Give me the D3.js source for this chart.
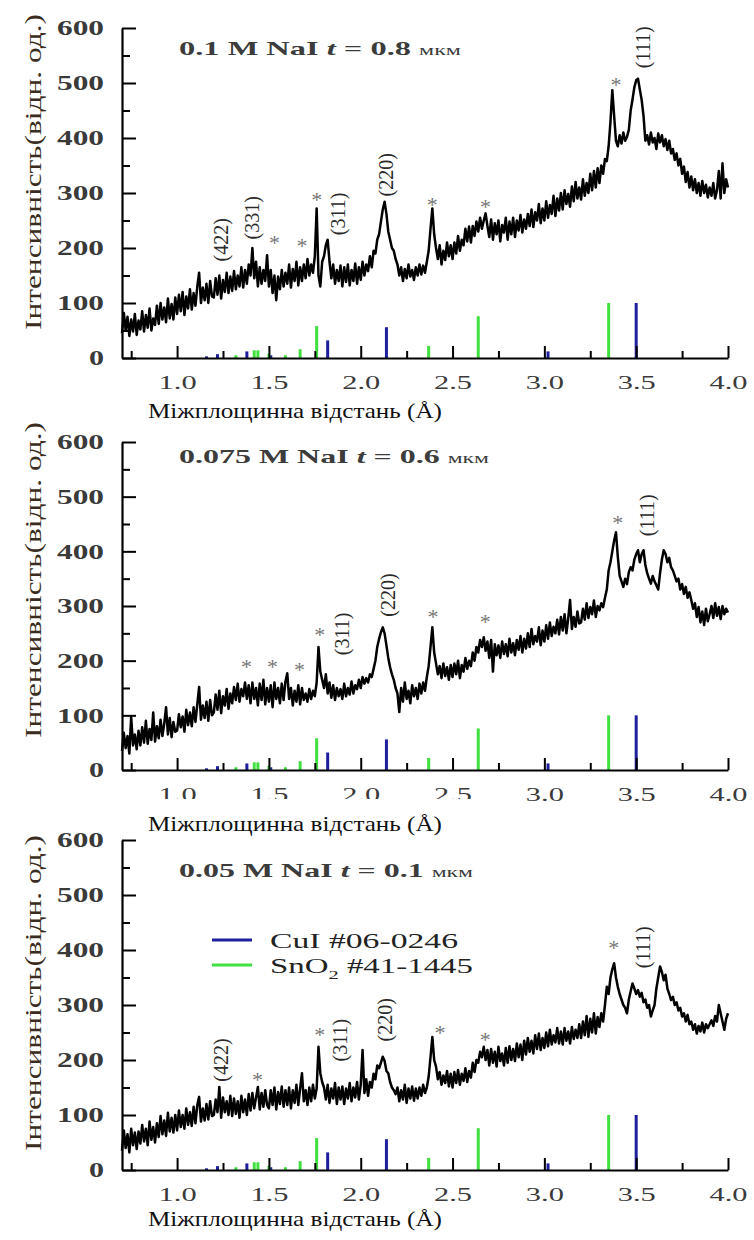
<!DOCTYPE html>
<html><head><meta charset="utf-8">
<script src="https://cdn.jsdelivr.net/npm/d3@7"></script>
<style>
body{margin:0;background:#fff}
svg{display:block}
text{font-family:"Liberation Serif","Times New Roman",serif}
</style>
</head><body>
<svg id="chart" width="754" height="1240"></svg>
<script>
// ---------------- DATA ----------------
const dGrid = [
0.70,0.71,0.72,0.73,0.74,0.75,0.76,0.77,0.78,0.79,
0.80,0.81,0.82,0.83,0.84,0.85,0.86,0.87,0.88,0.89,
0.90,0.91,0.92,0.93,0.94,0.95,0.96,0.97,0.98,0.99,
1.00,1.01,1.02,1.03,1.04,1.05,1.06,1.07,1.08,1.09,
1.10,1.11,1.12,1.13,1.14,1.15,1.16,1.17,1.18,1.19,
1.20,1.21,1.22,1.23,1.24,1.25,1.26,1.27,1.28,1.29,
1.30,1.31,1.32,1.33,1.34,1.35,1.36,1.37,1.38,1.39,
1.40,1.41,1.42,1.43,1.44,1.45,1.46,1.47,1.48,1.49,
1.50,1.51,1.52,1.53,1.54,1.55,1.56,1.57,1.58,1.59,
1.60,1.61,1.62,1.63,1.64,1.65,1.66,1.67,1.68,1.69,
1.70,1.71,1.72,1.73,1.74,1.75,1.76,1.77,1.78,1.79,
1.80,1.81,1.82,1.83,1.84,1.85,1.86,1.87,1.88,1.89,
1.90,1.91,1.92,1.93,1.94,1.95,1.96,1.97,1.98,1.99,
2.00,2.01,2.02,2.03,2.04,2.05,2.06,2.07,2.08,2.09,
2.10,2.11,2.12,2.13,2.14,2.15,2.16,2.17,2.18,2.19,
2.20,2.21,2.22,2.23,2.24,2.25,2.26,2.27,2.28,2.29,
2.30,2.31,2.32,2.33,2.34,2.35,2.36,2.37,2.38,2.39,
2.40,2.41,2.42,2.43,2.44,2.45,2.46,2.47,2.48,2.49,
2.50,2.51,2.52,2.53,2.54,2.55,2.56,2.57,2.58,2.59,
2.60,2.61,2.62,2.63,2.64,2.65,2.66,2.67,2.68,2.69,
2.70,2.71,2.72,2.73,2.74,2.75,2.76,2.77,2.78,2.79,
2.80,2.81,2.82,2.83,2.84,2.85,2.86,2.87,2.88,2.89,
2.90,2.91,2.92,2.93,2.94,2.95,2.96,2.97,2.98,2.99,
3.00,3.01,3.02,3.03,3.04,3.05,3.06,3.07,3.08,3.09,
3.10,3.11,3.12,3.13,3.14,3.15,3.16,3.17,3.18,3.19,
3.20,3.21,3.22,3.23,3.24,3.25,3.26,3.27,3.28,3.29,
3.30,3.31,3.32,3.33,3.34,3.35,3.36,3.37,3.38,3.39,
3.40,3.41,3.42,3.43,3.44,3.45,3.46,3.47,3.48,3.49,
3.50,3.51,3.52,3.53,3.54,3.55,3.56,3.57,3.58,3.59,
3.60,3.61,3.62,3.63,3.64,3.65,3.66,3.67,3.68,3.69,
3.70,3.71,3.72,3.73,3.74,3.75,3.76,3.77,3.78,3.79,
3.80,3.81,3.82,3.83,3.84,3.85,3.86,3.87,3.88,3.89,
3.90,3.91,3.92,3.93,3.94,3.95,3.96,3.97,3.98,3.99,
4.00];

// 0.1 M NaI, t = 0.8 мкм
const intensity01 = [
45,82,50,75,40,70,48,80,42,68,
52,85,48,78,55,90,50,72,60,95,
62,100,70,92,65,108,72,98,70,110,
80,115,85,120,78,112,90,125,88,118,
95,130,155,100,128,105,135,100,140,112,
110,145,115,150,108,142,120,155,118,148,
122,158,125,150,130,165,128,160,135,170,
150,200,145,175,130,165,135,160,140,187,
130,160,118,150,105,148,125,160,130,155,
135,170,128,162,140,175,132,165,140,170,
145,180,150,170,155,185,272,150,130,175,
185,205,215,175,145,170,135,160,140,168,
130,165,138,170,132,160,140,172,135,165,
142,175,150,170,158,185,165,195,190,215,
225,248,270,284,262,230,215,200,195,180,
170,150,165,140,162,145,170,148,160,142,
165,150,170,152,168,155,175,195,235,272,
225,200,180,205,170,195,178,210,185,205,
180,210,190,222,195,215,205,235,212,239,
210,240,222,248,230,255,235,250,263,240,
220,252,215,245,225,250,212,242,228,255,
215,248,225,255,220,250,232,260,228,252,
235,262,240,270,238,265,250,280,245,272,
250,285,255,278,262,295,258,290,268,300,
270,305,280,298,275,312,285,320,290,310,
288,325,295,318,300,335,305,340,310,345,
318,350,335,362,358,385,430,487,440,395,
385,405,390,410,395,402,415,450,470,492,
505,508,488,469,440,395,405,388,410,392,
400,380,408,392,405,385,398,378,395,372,
380,360,372,350,362,335,348,320,338,310,
330,305,325,300,318,295,322,300,315,292,
310,295,318,290,305,340,290,354,300,325,
310];

// 0.075 M NaI, t = 0.6 мкм
const intensity0075 = [
35,68,40,62,30,97,45,65,38,72,
45,78,50,90,48,75,55,105,52,80,
58,92,62,85,115,65,95,60,88,70,
72,102,78,98,70,110,82,105,80,115,
88,120,152,92,118,95,125,90,128,100,
105,138,110,145,104,135,118,148,112,140,
122,152,128,158,125,148,135,160,130,155,
122,160,130,150,118,158,128,165,120,150,
125,155,115,160,130,150,122,158,128,162,
177,130,150,118,145,125,155,120,150,128,
140,125,148,130,145,135,160,225,180,165,
150,175,140,160,132,155,128,150,135,148,
130,158,135,150,138,162,140,155,148,165,
150,170,158,168,160,175,170,185,200,225,
240,252,261,250,228,205,188,175,165,150,
140,106,150,125,160,130,145,122,155,135,
150,130,158,140,160,145,170,190,225,261,
215,195,175,190,168,195,172,188,165,192,
170,195,175,200,168,192,180,205,185,200,
190,215,200,225,215,238,225,243,218,235,
205,238,180,230,210,228,205,235,212,230,
208,240,215,232,210,238,220,245,215,240,
222,250,225,258,230,245,235,261,228,255,
235,265,240,270,245,262,250,275,248,280,
255,285,250,278,311,258,280,262,290,268,
270,295,275,305,278,298,285,310,280,300,
292,305,298,315,330,365,380,400,420,435,
390,355,345,335,350,340,362,371,365,385,
395,402,380,395,402,375,360,350,341,355,
345,338,330,360,385,402,395,380,388,371,
365,355,345,350,330,340,322,335,315,325,
311,295,305,280,298,270,290,265,295,272,
285,300,278,305,282,298,276,300,285,295,
288];

// 0.05 M NaI, t = 0.1 мкм
const intensity005 = [
35,72,40,65,32,75,45,68,38,70,
48,82,52,75,45,88,55,78,50,85,
60,98,65,90,62,104,70,95,68,100,
72,108,78,100,75,112,82,105,80,115,
85,118,133,88,112,90,120,92,125,98,
100,128,105,151,95,132,105,125,100,135,
98,130,102,125,95,135,105,128,100,138,
108,140,112,132,151,110,140,115,145,118,
112,145,118,150,110,142,120,152,115,145,
118,150,112,145,122,155,118,148,176,125,
145,118,150,125,155,130,148,224,176,160,
150,128,155,122,148,130,158,120,150,128,
152,120,148,130,158,125,150,132,160,128,
155,218,140,165,135,160,150,175,165,190,
185,195,206,198,180,176,160,150,145,138,
150,125,145,128,155,122,148,130,152,126,
148,130,150,135,155,140,150,170,205,242,
200,188,165,178,155,172,158,180,152,175,
150,178,158,182,155,175,162,185,160,180,
168,195,178,200,195,215,205,224,200,218,
190,220,195,215,188,224,198,212,190,222,
195,225,200,220,198,230,205,228,200,235,
210,240,215,235,212,245,220,248,218,240,
222,250,225,255,228,245,232,258,230,252,
228,258,235,252,230,260,238,255,240,265,
240,270,245,280,242,275,250,285,248,278,
260,285,270,300,333,320,350,365,376,350,
333,320,310,300,295,285,310,325,339,330,
320,327,315,322,305,310,295,300,279,290,
300,330,350,370,360,345,355,330,320,309,
315,300,305,290,295,279,285,270,282,265,
270,255,265,248,262,252,268,250,265,258,
265,272,262,280,270,300,285,270,255,275,
285];

// reference patterns (d-spacing, relative intensity)
const cuiD = [1.16, 1.22, 1.38, 1.51, 1.82, 2.14, 3.02, 3.50];
const cuiI = [3, 7, 12, 5, 32, 56, 12, 100];
const sno2D = [1.32, 1.42, 1.44, 1.50, 1.59, 1.67, 1.76, 2.37, 2.64, 3.35];
const sno2I = [5, 14, 14, 8, 5, 16, 58, 22, 76, 100];

const xMajorTicks = [1.0, 1.5, 2.0, 2.5, 3.0, 3.5, 4.0];
const xMinorTicks = [0.75, 1.25, 1.75, 2.25, 2.75, 3.25, 3.75];
const yMajorTicks = [0, 100, 200, 300, 400, 500, 600];
const yMinorTicks = [50, 150, 250, 350, 450, 550];

const titleConc = ["0.1 M NaI ", "0.075 M NaI ", "0.05 M NaI "];
const titleThick = [" = 0.8 ", " = 0.6 ", " = 0.1 "];
const xAxisTitle = "Міжплощинна відстань (Å)";
const yAxisTitle = "Інтенсивність(відн. од.)";
const legendLabels = ["CuI #06-0246", "SnO", "2", " #41-1445"];

// peak annotations: [d, intensity anchor, label]
const peaks01 = [[1.241,215,"(422)"],[1.41,255,"(331)"],[1.53,218,"*"],[1.68,213,"*"],[1.76,296,"*"],
  [1.875,262,"(311)"],[2.14,333,"(220)"],[2.39,287,"*"],[2.68,284,"*"],[3.39,505,"*"],[3.535,565,"(111)"]];
const peaks0075 = [[1.378,197,"*"],[1.52,197,"*"],[1.667,192,"*"],[1.777,256,"*"],[1.90,249,"(311)"],
  [2.148,320,"(220)"],[2.394,289,"*"],[2.678,280,"*"],[3.40,461,"*"],[3.558,466,"(111)"]];
const peaks005 = [[1.241,200,"(422)"],[1.438,173,"*"],[1.777,255,"*"],[1.886,236,"(311)"],[2.132,273,"(220)"],
  [2.432,258,"*"],[2.678,245,"*"],[3.378,413,"*"],[3.536,405,"(111)"]];

// ---------------- DRAWING ----------------
const svg = d3.select("#chart");
const BLUE = "#1e1e9e", GREEN = "#3fe03f";
const x = d3.scaleLinear().domain([0.7, 4.0]).range([122, 728]);

const layout = [
  {top: 28, bottom: 358, series: intensity01, peaks: peaks01, titleY: 55, titleLen: 282, yTitleC: 172, xTitleY: 418, legend: false, mask: false},
  {top: 442, bottom: 770, series: intensity0075, peaks: peaks0075, titleY: 463, titleLen: 310, yTitleC: 580, xTitleY: 831, legend: false, mask: true},
  {top: 840, bottom: 1170, series: intensity005, peaks: peaks005, titleY: 877, titleLen: 294, yTitleC: 993, xTitleY: 1226, legend: true, mask: false}
];

layout.forEach((P, pi) => {
  const y = d3.scaleLinear().domain([0, 600]).range([P.bottom, P.top]);
  const g = svg.append("g");

  // reference bars
  g.selectAll("line.cui").data(cuiD).join("line")
    .attr("x1", d => x(d)).attr("x2", d => x(d))
    .attr("y1", y(0)).attr("y2", (d, i) => y(cuiI[i]))
    .attr("stroke", BLUE).attr("stroke-width", 3);
  g.selectAll("line.sno").data(sno2D).join("line")
    .attr("x1", d => x(d)).attr("x2", d => x(d))
    .attr("y1", y(0)).attr("y2", (d, i) => y(sno2I[i]))
    .attr("stroke", GREEN).attr("stroke-width", 3);

  // spectrum
  const line = d3.line().x((d, i) => x(dGrid[i])).y(d => y(d));
  g.append("path").datum(P.series).attr("d", line)
    .attr("fill", "none").attr("stroke", "#000").attr("stroke-width", 2.5)
    .attr("stroke-linejoin", "round");

  // axes
  const xAx = g.append("g").attr("transform", `translate(0,${P.bottom})`)
    .call(d3.axisBottom(x).tickValues(xMajorTicks).tickFormat(d3.format(".1f"))
      .tickSizeInner(-12).tickSizeOuter(0).tickPadding(18));
  g.append("g").attr("transform", `translate(0,${P.bottom})`)
    .call(d3.axisBottom(x).tickValues(xMinorTicks).tickFormat("")
      .tickSizeInner(-7).tickSizeOuter(0))
    .call(s => s.select(".domain").remove());
  const yAx = g.append("g").attr("transform", `translate(122,0)`)
    .call(d3.axisLeft(y).tickValues(yMajorTicks).tickFormat(d3.format("d"))
      .tickSizeInner(-14).tickSizeOuter(0).tickPadding(18));
  g.append("g").attr("transform", `translate(122,0)`)
    .call(d3.axisLeft(y).tickValues(yMinorTicks).tickFormat("")
      .tickSizeInner(-8).tickSizeOuter(0))
    .call(s => s.select(".domain").remove());

  g.selectAll(".domain").attr("stroke", "#000").attr("stroke-width", 2.2);
  g.selectAll(".tick line").attr("stroke", "#000").attr("stroke-width", 2);
  xAx.selectAll("text").attr("font-size", 19).attr("fill", "#3a3a3a")
    .attr("font-family", "Liberation Serif")
    .attr("textLength", 38).attr("lengthAdjust", "spacingAndGlyphs");
  yAx.selectAll("text").attr("font-size", 21).attr("fill", "#3a3a3a")
    .attr("font-family", "Liberation Serif").attr("font-weight", "bold")
    .attr("textLength", d => d === 0 ? 15 : 47).attr("lengthAdjust", "spacingAndGlyphs");

  // white box of axis title (overlaps tick labels in middle panel)
  if (P.mask) {
    g.append("rect").attr("x", 140).attr("y", 799).attr("width", 342).attr("height", 40).attr("fill", "#fff");
  }

  // x-axis title
  g.append("text").attr("x", 148).attr("y", P.xTitleY)
    .attr("font-size", 22).attr("fill", "#111")
    .attr("textLength", 294).attr("lengthAdjust", "spacingAndGlyphs")
    .text(xAxisTitle);

  // y-axis title
  g.append("text").attr("transform", `translate(33,${P.yTitleC}) rotate(-90)`)
    .attr("text-anchor", "middle").attr("dominant-baseline", "central")
    .attr("font-size", 23).attr("fill", "#3a2c20")
    .attr("textLength", 316).attr("lengthAdjust", "spacingAndGlyphs")
    .text(yAxisTitle);

  // panel title
  const t = g.append("text").attr("x", 179).attr("y", P.titleY)
    .attr("font-size", 19).attr("font-weight", "bold").attr("fill", "#3c3c3c")
    .attr("textLength", P.titleLen).attr("lengthAdjust", "spacingAndGlyphs");
  t.append("tspan").text(titleConc[pi]);
  t.append("tspan").attr("font-style", "italic").text("t");
  t.append("tspan").text(titleThick[pi]);
  t.append("tspan").attr("font-size", 14).attr("font-weight", "normal").text("мкм");

  // peak annotations
  P.peaks.forEach(([d, v, lab]) => {
    if (lab === "*") {
      g.append("text").attr("x", x(d)).attr("y", y(v)).attr("dy", "0.55em")
        .attr("text-anchor", "middle").attr("font-size", 22).attr("fill", "#777").text("*");
    } else {
      g.append("text").attr("transform", `translate(${x(d)},${y(v)}) rotate(-90)`)
        .attr("text-anchor", "middle").attr("dominant-baseline", "central")
        .attr("font-size", 20).attr("fill", "#2a2a2a").text(lab);
    }
  });

  // legend
  if (P.legend) {
    const lg = g.append("g");
    lg.append("line").attr("x1", 212).attr("x2", 252).attr("y1", 940).attr("y2", 940)
      .attr("stroke", BLUE).attr("stroke-width", 3);
    lg.append("line").attr("x1", 212).attr("x2", 252).attr("y1", 965).attr("y2", 965)
      .attr("stroke", GREEN).attr("stroke-width", 3);
    lg.append("text").attr("x", 270).attr("y", 948).attr("font-size", 21).attr("fill", "#222")
      .attr("textLength", 188).attr("lengthAdjust", "spacingAndGlyphs").text(legendLabels[0]);
    const t2 = lg.append("text").attr("x", 270).attr("y", 973).attr("font-size", 21).attr("fill", "#222")
      .attr("textLength", 203).attr("lengthAdjust", "spacingAndGlyphs");
    t2.append("tspan").text(legendLabels[1]);
    t2.append("tspan").attr("font-size", 13).attr("dy", 6).text(legendLabels[2]);
    t2.append("tspan").attr("dy", -6).text(legendLabels[3]);
  }
});
</script>
</body></html>
